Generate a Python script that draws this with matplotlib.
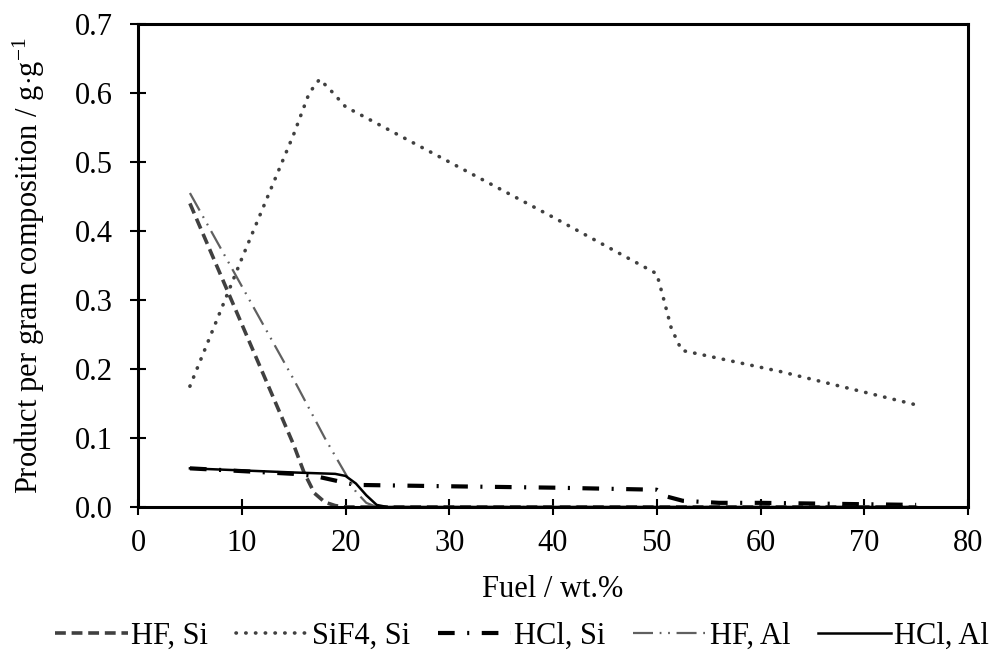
import matplotlib
matplotlib.use("Agg")
import matplotlib.pyplot as plt
from matplotlib.ticker import FormatStrFormatter

plt.rcParams['font.family'] = ['Liberation Serif', 'DejaVu Serif']
plt.rcParams['mathtext.fontset'] = 'custom'
plt.rcParams['mathtext.rm'] = 'Liberation Serif'
plt.rcParams['mathtext.it'] = 'Liberation Serif:italic'
plt.rcParams['font.size'] = 22

# values
hf_si_x = [5, 10, 15, 16, 17, 18, 19, 20, 30, 40, 50, 60, 75]
hf_si_y = [0.44, 0.265, 0.09, 0.05, 0.02, 0.007, 0.002, 0.0, 0.0, 0.0, 0.0, 0.0, 0.0]

sif4_x = [5, 10, 15, 16.5, 17.5, 18.5, 20, 30, 40, 50, 50.6, 51.4, 52.4, 55.5, 62, 75]
sif4_y = [0.175, 0.36, 0.54, 0.60, 0.62, 0.605, 0.58, 0.50, 0.42, 0.338, 0.305, 0.259, 0.227, 0.217, 0.196, 0.148]

hcl_si_x = [5, 10, 15, 17, 18.5, 20, 21, 30, 40, 50, 51, 52.5, 56, 60, 75]
hcl_si_y = [0.056, 0.052, 0.048, 0.045, 0.04, 0.035, 0.032, 0.030, 0.028, 0.025, 0.015, 0.009, 0.006, 0.006, 0.003]

hf_al_x = [5, 10, 15, 18, 20, 21, 22, 23, 30, 40, 50, 60, 75]
hf_al_y = [0.455, 0.32, 0.185, 0.10, 0.048, 0.022, 0.006, 0.0, 0.0, 0.0, 0.0, 0.0, 0.0]

hcl_al_x = [5, 10, 15, 19, 20, 21, 22, 23, 24, 30, 40, 50, 60, 75]
hcl_al_y = [0.056, 0.053, 0.050, 0.048, 0.045, 0.034, 0.017, 0.003, 0.0, 0.0, 0.0, 0.0, 0.0, 0.0]

fig = plt.figure(figsize=(9.96, 6.54), dpi=100)
ax = fig.add_axes([0.1386, 0.2248, 0.8333, 0.7385])

ax.plot(hf_si_x, hf_si_y, color='#404040', lw=2.6, dashes=(3, 1.6), label='HF, Si')
ax.plot(sif4_x, sif4_y, color='#404040', lw=2.6, dashes=(0.1, 2.6),
        dash_capstyle='round', label='SiF4, Si')
ax.plot(hcl_si_x, hcl_si_y, color='black', lw=3.0, dashes=(4, 3, 0.5, 3),
        label='HCl, Si')
ax.plot(hf_al_x, hf_al_y, color='#606060', lw=1.6, dashes=(9, 3, 0.8, 3, 0.8, 3),
        label='HF, Al')
ax.plot(hcl_al_x, hcl_al_y, color='black', lw=1.8, label='HCl, Al')

ax.set_xlim(0, 80)
ax.set_ylim(0, 0.7)
ax.set_xticks(range(0, 81, 10))
ax.set_yticks([i / 10 for i in range(8)])
ax.yaxis.set_major_formatter(FormatStrFormatter('%.1f'))
ax.tick_params(direction='inout', length=12, width=1.5, labelsize=22)
ax.tick_params(axis='x', pad=10)
ax.tick_params(axis='y', pad=12)
for s in ax.spines.values():
    s.set_linewidth(2.2)

ax.set_xlabel('Fuel / wt.%', fontsize=22, labelpad=12)
ax.set_ylabel(r'Product per gram composition / g$\cdot$g$^{-1}$', fontsize=22, labelpad=20)

fig.legend(*ax.get_legend_handles_labels(), loc='center left',
           bbox_to_anchor=(55 / 996, 0.027), ncol=5, frameon=False,
           fontsize=22, handlelength=2.4, handletextpad=0.1, columnspacing=0.9,
           borderpad=0, borderaxespad=0)

fig.savefig('out.png', dpi=100)
